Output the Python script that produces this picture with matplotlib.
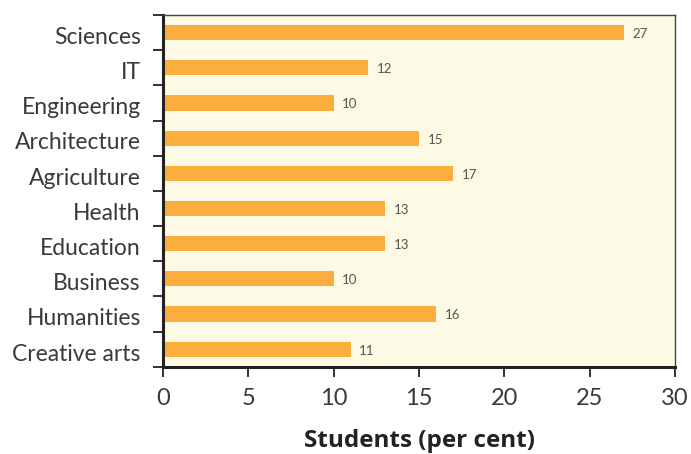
import matplotlib.pyplot as plt

# Share of students by field of study
fields = ["Sciences", "IT", "Engineering", "Architecture", "Agriculture",
          "Health", "Education", "Business", "Humanities", "Creative arts"]
percent = [27, 12, 10, 15, 17, 13, 13, 10, 16, 11]
xticks = [0, 5, 10, 15, 20, 25, 30]

plt.rcParams["font.family"] = ["Lato", "DejaVu Sans"]

fig = plt.figure(figsize=(6.91, 4.54), dpi=100)
ax = fig.add_axes([0.236, 0.192, 0.741, 0.775])
ax.set_facecolor("#fcf9e4")

ypos = list(range(len(fields)))
ax.barh(ypos, percent, height=0.43, color="#fbad3e", zorder=2)
for y, v in zip(ypos, percent):
    ax.text(v + 0.5, y + 0.04, str(v), va="center", ha="left",
            fontsize=9.5, color="#555555")

ax.set_ylim(len(fields) - 0.5, -0.5)
ax.set_xlim(0, 30)
ax.set_xticks(xticks)
ax.set_xticklabels([str(t) for t in xticks], fontsize=17, color="#3a3a3a")

# category names between boundary ticks
ax.set_yticks([y + 0.08 for y in ypos])
ax.set_yticklabels(fields, fontsize=16.5, color="#3a3a3a")
ax.tick_params(axis="y", which="major", length=0, pad=16)
ax.set_yticks([i - 0.5 for i in range(len(fields) + 1)], minor=True)
ax.tick_params(axis="y", which="minor", length=7, width=1.3, color="#222222")
ax.tick_params(axis="x", length=7, width=1.3, color="#222222", pad=8)

for side in ["left", "bottom"]:
    ax.spines[side].set_linewidth(2.2)
    ax.spines[side].set_color("#222222")
for side in ["top", "right"]:
    ax.spines[side].set_linewidth(1.0)
    ax.spines[side].set_color("#444444")

ax.set_xlabel("Students (per cent)", fontsize=17.5, fontweight="bold",
              family=["Open Sans", "DejaVu Sans"], color="#222222",
              labelpad=15)

fig.savefig("out.png", dpi=100)
